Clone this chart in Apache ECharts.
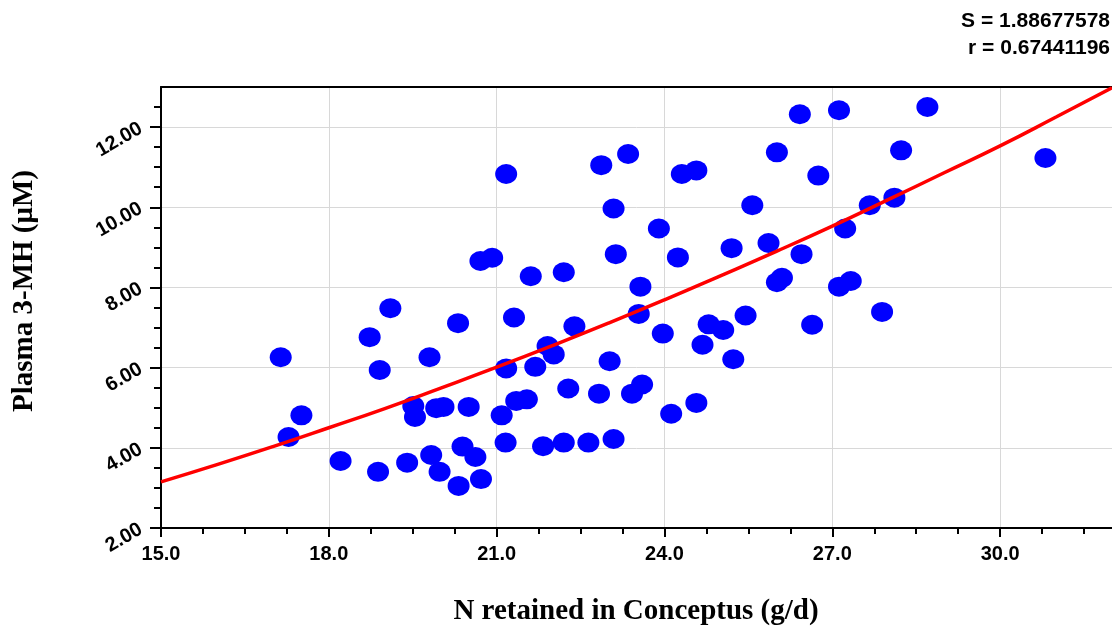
<!DOCTYPE html>
<html>
<head>
<meta charset="utf-8">
<script src="https://cdn.jsdelivr.net/npm/echarts@6/dist/echarts.min.js"></script>
<style>html,body{margin:0;padding:0;background:#fff}#c{width:1112px;height:628px}</style>
</head>
<body>
<div id="c"></div>
<script>
// Observed data: N retained in Conceptus (g/d) vs Plasma 3-MH (µM)
const nRetained = [17.14,17.51,17.28,18.21,18.88,19.40,19.10,18.73,18.91,19.80,20.31,19.51,19.54,19.92,20.05,20.50,19.83,20.39,20.62,19.98,20.32,20.72,20.71,20.92,21.61,21.31,21.91,22.02,21.17,21.69,21.09,21.35,21.54,21.16,21.83,22.20,22.64,23.09,22.39,22.28,22.83,23.02,23.42,23.60,23.54,23.97,24.12,24.57,24.68,24.79,25.05,25.45,25.23,21.17,22.87,23.35,24.31,24.57,26.01,23.09,25.57,23.90,22.20,23.13,24.24,25.20,25.86,23.57,26.01,26.10,26.42,27.12,28.70,28.23,26.75,30.81,27.67,28.11,27.23,26.45,27.12,27.33,26.64,27.89];
const plasma3MH = [6.26,4.81,4.27,3.67,3.40,3.63,7.48,6.76,5.94,6.26,7.11,5.04,4.77,4.99,5.02,5.02,3.82,4.03,3.77,3.40,3.05,3.22,8.66,8.74,8.28,7.25,6.54,6.33,5.98,6.02,4.81,5.17,5.21,4.13,4.04,4.13,4.13,4.22,7.03,5.48,5.35,6.16,5.35,5.58,7.34,6.85,4.85,5.12,6.57,7.08,6.94,7.30,6.21,10.83,11.05,11.33,10.83,10.92,11.37,9.97,10.05,9.47,8.38,8.83,8.75,8.98,9.11,8.02,8.13,8.24,12.32,12.42,12.50,11.42,10.79,11.23,10.05,10.24,9.47,8.83,8.02,8.16,7.07,7.39];
// Fitted curve
const fitX = [15,16,17,18,19,20,21,22,23,24,25,26,27,28,29,30,31,32];
const fitY = [3.15,3.58,4.03,4.50,4.98,5.49,6.01,6.55,7.11,7.69,8.29,8.90,9.53,10.19,10.86,11.53,12.25,12.98];
// Tick values
const xMajorTicks = [15,18,21,24,27,30];
const xMinorTicks = [15.75,16.5,17.25,18.75,19.5,20.25,21.75,22.5,23.25,24.75,25.5,26.25,27.75,28.5,29.25,30.75,31.5];
const yMajorTicks = [2,4,6,8,10,12];
const yMinorTicks = [2.5,3,3.5,4.5,5,5.5,6.5,7,7.5,8.5,9,9.5,10.5,11,11.5,12.5];
const statLines = ['S = 1.88677578', 'r = 0.67441196'];
const xTitle = 'N retained in Conceptus (g/d)';
const yTitle = 'Plasma 3-MH (μM)';

const chart = echarts.init(document.getElementById('c'), null, {renderer: 'canvas'});
const scatterData = nRetained.map((x, i) => [x, plasma3MH[i]]);
const fitData = fitX.map((x, i) => [x, fitY[i]]);
const tickFont = {fontFamily: '"Liberation Sans", Arial, sans-serif', fontWeight: 'bold', fontSize: 20, color: '#000'};
const blackLine = {color: '#000', width: 2};

chart.setOption({
  animation: false,
  backgroundColor: '#fff',
  grid: {left: 161, right: 0, top: 87, bottom: 100, containLabel: false},
  xAxis: [{
    type: 'value', min: 15, max: 32, interval: 3, position: 'bottom',
    axisLine: {show: true, onZero: false, lineStyle: blackLine},
    axisTick: {show: true, inside: false, length: 9, customValues: xMajorTicks, lineStyle: blackLine},
    axisLabel: {show: true, margin: 16, customValues: xMajorTicks, formatter: v => v.toFixed(1), ...tickFont},
    splitLine: {show: true, lineStyle: {color: '#d8d8d8', width: 1}}
  }, {
    type: 'value', min: 15, max: 32, position: 'top',
    axisLine: {show: true, onZero: false, lineStyle: blackLine},
    axisTick: {show: false}, axisLabel: {show: false}, splitLine: {show: false}
  }, {
    type: 'value', min: 15, max: 32, position: 'bottom',
    axisLine: {show: false, onZero: false},
    axisTick: {show: true, inside: false, length: 6, customValues: xMinorTicks, lineStyle: blackLine},
    axisLabel: {show: false}, splitLine: {show: false}
  }],
  yAxis: [{
    type: 'value', min: 2, max: 13, interval: 2, position: 'left',
    axisLine: {show: true, onZero: false, lineStyle: blackLine},
    axisTick: {show: true, inside: false, length: 11, customValues: yMajorTicks, lineStyle: blackLine},
    axisLabel: {show: true, rotate: 30, margin: 20, customValues: yMajorTicks, formatter: v => v.toFixed(2), ...tickFont},
    splitLine: {show: true, lineStyle: {color: '#d8d8d8', width: 1}}
  }, {
    type: 'value', min: 2, max: 13, position: 'left',
    axisLine: {show: false, onZero: false},
    axisTick: {show: true, inside: false, length: 7, customValues: yMinorTicks, lineStyle: blackLine},
    axisLabel: {show: false}, splitLine: {show: false}
  }],
  graphic: [
    {type: 'text', right: 2, top: 11, style: {text: statLines[0], font: 'bold 21px "Liberation Sans", Arial, sans-serif', fill: '#000', textAlign: 'right'}},
    {type: 'text', right: 2, top: 38, style: {text: statLines[1], font: 'bold 21px "Liberation Sans", Arial, sans-serif', fill: '#000', textAlign: 'right'}},
    {type: 'text', x: 636, y: 612, style: {text: xTitle, font: 'bold 29px "Liberation Serif", "Times New Roman", serif', fill: '#000', textAlign: 'center', textVerticalAlign: 'middle'}},
    {type: 'text', x: 25, y: 291, rotation: Math.PI / 2, style: {text: yTitle, font: 'bold 29px "Liberation Serif", "Times New Roman", serif', fill: '#000', textAlign: 'center', textVerticalAlign: 'middle'}}
  ],
  series: [{
    type: 'scatter', data: scatterData, symbol: 'circle', symbolSize: [22, 20],
    itemStyle: {color: '#0000ff', opacity: 1}, z: 2
  }, {
    type: 'line', data: fitData, smooth: true, showSymbol: false, symbol: 'none',
    lineStyle: {color: '#ff0000', width: 3.5}, z: 3
  }]
});
</script>
</body>
</html>
